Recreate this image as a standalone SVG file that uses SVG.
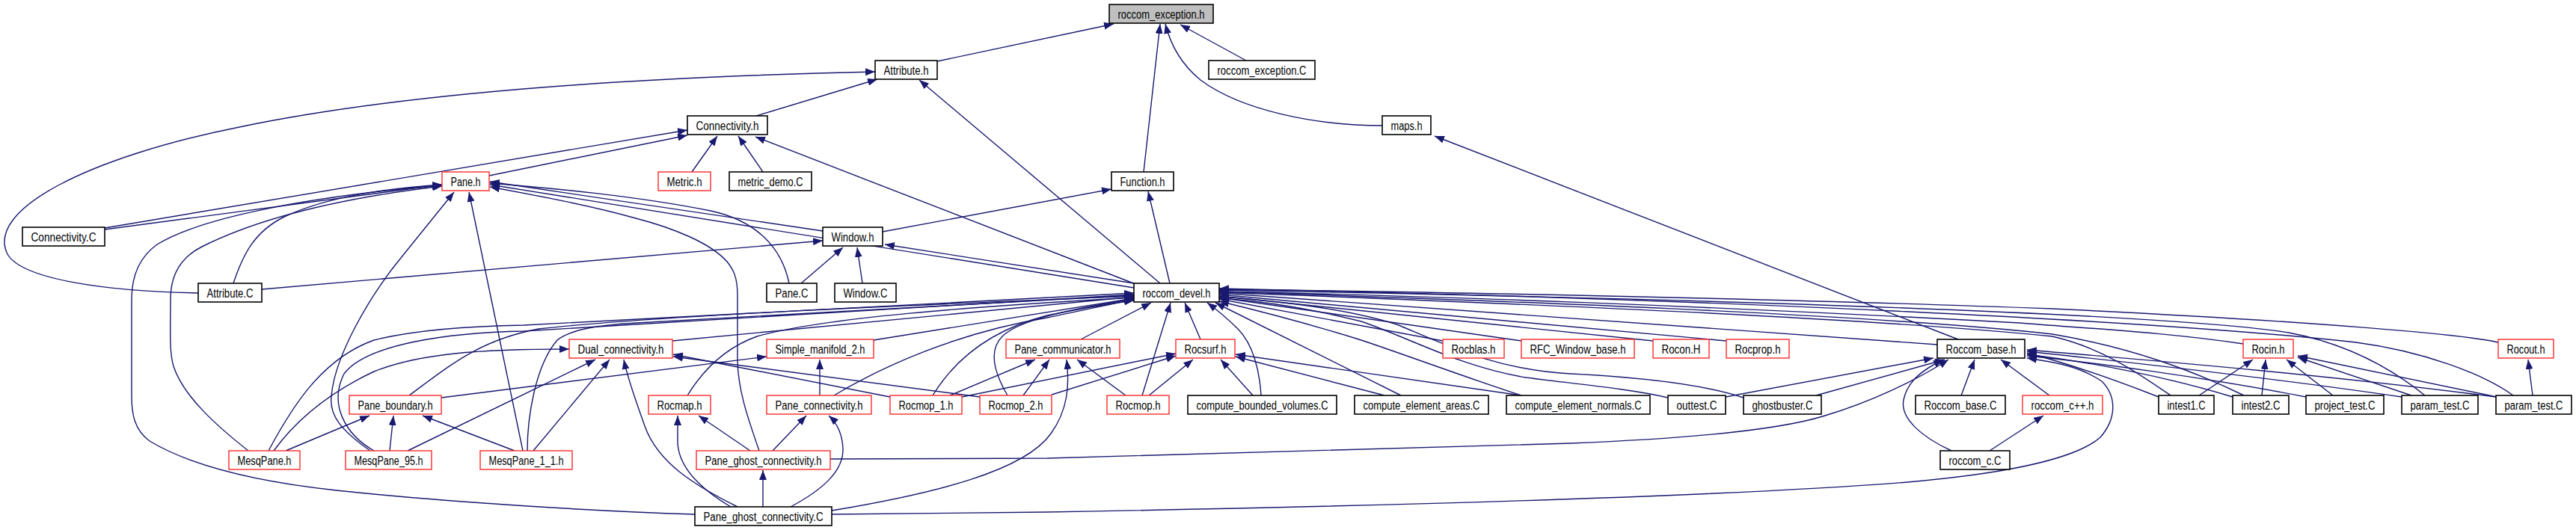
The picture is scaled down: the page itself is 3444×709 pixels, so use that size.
<svg xmlns="http://www.w3.org/2000/svg" width="3444" height="709" viewBox="0 0 3444 709">
<style>
.e path{fill:none;stroke:#191970;stroke-width:1.4;marker-end:url(#a)}
.b{fill:#fff;stroke:#000;stroke-width:1.6}
.r{fill:#fff;stroke:#ff2a2a;stroke-width:1.4}
.g{fill:#bfbfbf;stroke:#000;stroke-width:1.6}
text{font-family:"Liberation Sans",Arial,sans-serif;font-size:16px;fill:#000;text-anchor:middle}
</style>
<defs>
<marker id="a" markerWidth="13" markerHeight="10" refX="13" refY="5" orient="auto" markerUnits="userSpaceOnUse"><path d="M0,0 L13,5 L0,10 z" fill="#191970"/></marker>
</defs>
<rect width="3444" height="709" fill="#fff"/>
<g id="connectors" class="e">
<path d="M1253,82 L1489,32"/>
<path d="M1529,230 L1551,32"/>
<path d="M1848,168 C1760,168 1660,148 1605,107 C1578,85 1565,60 1558,32"/>
<path d="M1666,81 L1578,33"/>
<path d="M1011,155 L1173,106"/>
<path d="M1551,379 L1229,107"/>
<path d="M265,392 C150,390 30,375 10,340 C-20,280 120,210 320,170 C560,120 900,102 1170,96"/>
<path d="M140,305 L919,174"/>
<path d="M654,235 L919,181"/>
<path d="M925,230 L959,182"/>
<path d="M1020,230 L987,182"/>
<path d="M1518,380 L1010,183"/>
<path d="M1516,379 L1183,327"/>
<path d="M1180,310 L1486,253"/>
<path d="M1564,379 L1535,256"/>
<path d="M350,387 L1100,322"/>
<path d="M1071,379 L1127,331"/>
<path d="M1153,379 L1146,331"/>
<path d="M1100,309 L655,243"/>
<path d="M1516,385 L655,247"/>
<path d="M1055,379 C1045,330 1010,295 950,282 C850,262 740,252 655,245"/>
<path d="M1015,603 C1000,560 986,520 986,480 L986,395 C986,370 980,360 972,350 C950,325 900,305 850,292 C790,275 720,262 655,250"/>
<path d="M140,307 L591,247"/>
<path d="M312,379 C325,340 340,310 380,290 C440,262 520,252 591,247"/>
<path d="M332,603 C290,570 245,530 232,490 C226,470 228,440 228,400 C228,370 240,345 270,330 C360,285 480,262 591,249"/>
<path d="M929,688 C800,684 600,672 450,656 C330,643 250,620 200,590 C180,575 176,555 176,530 L176,400 C176,370 185,345 210,327 C270,290 420,262 591,248"/>
<path d="M495,603 C455,575 440,555 443,530 C447,480 490,400 540,340 L607,257"/>
<path d="M699,603 L627,257"/>
<path d="M366,603 C390,570 430,530 500,497 C560,473 640,467 761,467"/>
<path d="M545,603 L796,481"/>
<path d="M713,603 L815,481"/>
<path d="M986,678 C930,650 880,620 862,570 C850,535 840,510 834,481"/>
<path d="M1190,531 L900,474"/>
<path d="M1310,531 L900,477"/>
<path d="M899,456 L1516,397"/>
<path d="M547,529 C600,490 640,455 720,440 C900,420 1300,405 1516,396"/>
<path d="M359,603 C390,545 430,480 500,455 C560,440 640,436 700,435 C1000,420 1300,405 1516,392"/>
<path d="M500,603 C460,580 440,540 460,500 C490,460 600,445 700,443 C1000,425 1300,408 1516,394"/>
<path d="M705,603 C705,560 715,490 745,455 C765,440 800,435 850,432 C1100,420 1350,405 1516,395"/>
<path d="M382,603 L494,556"/>
<path d="M521,603 L526,556"/>
<path d="M688,603 L565,556"/>
<path d="M590,532 L1025,477"/>
<path d="M1096,529 L1096,481"/>
<path d="M1168,455 L1516,399"/>
<path d="M919,529 C940,495 970,465 1012,450 C1100,425 1300,410 1516,398"/>
<path d="M1115,529 C1180,490 1280,445 1400,425 C1450,415 1490,405 1516,401"/>
<path d="M1247,529 C1280,475 1330,440 1400,422 C1450,412 1490,405 1516,402"/>
<path d="M1347,529 C1330,500 1320,470 1340,450 C1360,430 1420,415 1516,400"/>
<path d="M977,678 C930,650 906,620 906,590 L906,556"/>
<path d="M1003,603 L934,556"/>
<path d="M1033,603 L1078,556"/>
<path d="M1057,678 C1100,655 1128,630 1127,600 C1126,580 1118,565 1108,556"/>
<path d="M1020,678 L1020,629"/>
<path d="M1110,614 L1400,613 C1700,606 1950,598 2100,593 C2250,587 2380,575 2440,556 C2500,538 2560,510 2605,481"/>
<path d="M1112,688 L1400,685 C1800,678 2300,665 2550,645 C2700,632 2780,610 2808,585 C2830,560 2830,530 2810,510 C2780,490 2750,485 2710,479"/>
<path d="M1270,529 L1384,481"/>
<path d="M1368,529 L1403,481"/>
<path d="M1112,683 C1250,660 1370,630 1405,580 C1428,548 1430,515 1426,481"/>
<path d="M1505,529 L1440,481"/>
<path d="M1445,454 L1539,405"/>
<path d="M1527,529 L1565,405"/>
<path d="M1536,529 L1595,481"/>
<path d="M1286,531 L1572,473"/>
<path d="M1406,528 L1572,476"/>
<path d="M1675,529 L1632,481"/>
<path d="M1851,529 L1652,477"/>
<path d="M2034,529 L1652,474"/>
<path d="M1605,454 L1584,405"/>
<path d="M1686,529 C1684,495 1675,460 1655,440 C1640,425 1625,413 1614,405"/>
<path d="M1873,529 L1625,405"/>
<path d="M2034,529 C1960,505 1880,475 1820,455 C1740,430 1680,415 1630,403"/>
<path d="M2230,532 C2180,520 2100,513 2040,505 C1950,490 1880,450 1820,430 C1740,410 1680,402 1630,399"/>
<path d="M2331,532 C2280,515 2200,505 2100,500 C2000,495 1930,460 1870,435 C1800,412 1700,402 1630,397"/>
<path d="M1929,456 L1630,400"/>
<path d="M2034,456 L1630,398"/>
<path d="M2210,456 L1630,396"/>
<path d="M2308,456 L1630,394"/>
<path d="M2590,461 L1630,392"/>
<path d="M2999,460 C2900,445 2800,440 2700,432 C2300,410 1900,395 1630,390"/>
<path d="M3340,458 C3300,448 3100,430 2744,413 C2400,400 1900,390 1630,387"/>
<path d="M2902,529 C2860,500 2810,465 2744,450 C2500,425 2000,405 1630,391"/>
<path d="M3000,529 C2930,495 2850,465 2744,447 C2500,420 2000,402 1630,390"/>
<path d="M3242,529 C3200,495 3140,460 3060,445 C2900,420 2300,400 1630,388"/>
<path d="M3360,529 C3320,500 3240,470 3150,458 C2900,430 2300,400 1630,386"/>
<path d="M2886,531 C2820,505 2760,485 2710,472"/>
<path d="M2985,531 C2900,505 2800,485 2710,474"/>
<path d="M3083,531 C2950,505 2800,485 2710,476"/>
<path d="M3211,531 C3000,500 2800,480 2710,470"/>
<path d="M3337,531 C3100,500 2850,480 2710,468"/>
<path d="M2622,529 L2640,481"/>
<path d="M2740,529 L2675,481"/>
<path d="M2609,603 C2570,585 2540,560 2545,535 C2550,510 2570,495 2598,481"/>
<path d="M2660,603 L2732,556"/>
<path d="M2307,531 L2585,479"/>
<path d="M2428,529 L2600,481"/>
<path d="M2618,454 L1918,182"/>
<path d="M2940,529 L3012,481"/>
<path d="M3024,529 L3029,481"/>
<path d="M3119,529 L3057,481"/>
<path d="M3224,529 L3072,478"/>
<path d="M3338,531 L3072,476"/>
<path d="M3386,529 L3380,481"/>
</g>
<g id="n_roccom_exception_h"><rect class="g" x="1483" y="6" width="139" height="25"/><text x="1552.5" y="24.5" textLength="116" lengthAdjust="spacingAndGlyphs">roccom_exception.h</text></g>
<g id="n_Attribute_h"><rect class="b" x="1170" y="81" width="83" height="25"/><text x="1211.5" y="99.5" textLength="60" lengthAdjust="spacingAndGlyphs">Attribute.h</text></g>
<g id="n_roccom_exception_C"><rect class="b" x="1616" y="81" width="142" height="25"/><text x="1687" y="99.5" textLength="119" lengthAdjust="spacingAndGlyphs">roccom_exception.C</text></g>
<g id="n_Connectivity_h"><rect class="b" x="919" y="155" width="107" height="25"/><text x="972.5" y="173.5" textLength="84" lengthAdjust="spacingAndGlyphs">Connectivity.h</text></g>
<g id="n_maps_h"><rect class="b" x="1848" y="155" width="65" height="25"/><text x="1880.5" y="173.5" textLength="42" lengthAdjust="spacingAndGlyphs">maps.h</text></g>
<g id="n_Pane_h"><rect class="r" x="591" y="230" width="63" height="25"/><text x="622.5" y="248.5" textLength="40" lengthAdjust="spacingAndGlyphs">Pane.h</text></g>
<g id="n_Metric_h"><rect class="r" x="880" y="230" width="70" height="25"/><text x="915" y="248.5" textLength="47" lengthAdjust="spacingAndGlyphs">Metric.h</text></g>
<g id="n_metric_demo_C"><rect class="b" x="975" y="230" width="110" height="25"/><text x="1030" y="248.5" textLength="87" lengthAdjust="spacingAndGlyphs">metric_demo.C</text></g>
<g id="n_Function_h"><rect class="b" x="1486" y="230" width="83" height="25"/><text x="1527.5" y="248.5" textLength="60" lengthAdjust="spacingAndGlyphs">Function.h</text></g>
<g id="n_Connectivity_C"><rect class="b" x="30" y="304" width="110" height="25"/><text x="85" y="322.5" textLength="87" lengthAdjust="spacingAndGlyphs">Connectivity.C</text></g>
<g id="n_Window_h"><rect class="b" x="1100" y="304" width="80" height="25"/><text x="1140" y="322.5" textLength="57" lengthAdjust="spacingAndGlyphs">Window.h</text></g>
<g id="n_Attribute_C"><rect class="b" x="265" y="379" width="85" height="25"/><text x="307.5" y="397.5" textLength="62" lengthAdjust="spacingAndGlyphs">Attribute.C</text></g>
<g id="n_Pane_C"><rect class="b" x="1025" y="379" width="67" height="25"/><text x="1058.5" y="397.5" textLength="44" lengthAdjust="spacingAndGlyphs">Pane.C</text></g>
<g id="n_Window_C"><rect class="b" x="1116" y="379" width="82" height="25"/><text x="1157" y="397.5" textLength="59" lengthAdjust="spacingAndGlyphs">Window.C</text></g>
<g id="n_roccom_devel_h"><rect class="b" x="1516" y="379" width="114" height="25"/><text x="1573" y="397.5" textLength="91" lengthAdjust="spacingAndGlyphs">roccom_devel.h</text></g>
<g id="n_Dual_connectivity_h"><rect class="r" x="761" y="454" width="138" height="25"/><text x="830" y="472.5" textLength="115" lengthAdjust="spacingAndGlyphs">Dual_connectivity.h</text></g>
<g id="n_Simple_manifold_2_h"><rect class="r" x="1025" y="454" width="143" height="25"/><text x="1096.5" y="472.5" textLength="120" lengthAdjust="spacingAndGlyphs">Simple_manifold_2.h</text></g>
<g id="n_Pane_communicator_h"><rect class="r" x="1345" y="454" width="152" height="25"/><text x="1421" y="472.5" textLength="129" lengthAdjust="spacingAndGlyphs">Pane_communicator.h</text></g>
<g id="n_Rocsurf_h"><rect class="r" x="1572" y="454" width="79" height="25"/><text x="1611.5" y="472.5" textLength="56" lengthAdjust="spacingAndGlyphs">Rocsurf.h</text></g>
<g id="n_Rocblas_h"><rect class="r" x="1929" y="454" width="82" height="25"/><text x="1970" y="472.5" textLength="59" lengthAdjust="spacingAndGlyphs">Rocblas.h</text></g>
<g id="n_RFC_Window_base_h"><rect class="r" x="2034" y="454" width="151" height="25"/><text x="2109.5" y="472.5" textLength="128" lengthAdjust="spacingAndGlyphs">RFC_Window_base.h</text></g>
<g id="n_Rocon_H"><rect class="r" x="2210" y="454" width="75" height="25"/><text x="2247.5" y="472.5" textLength="52" lengthAdjust="spacingAndGlyphs">Rocon.H</text></g>
<g id="n_Rocprop_h"><rect class="r" x="2308" y="454" width="84" height="25"/><text x="2350" y="472.5" textLength="61" lengthAdjust="spacingAndGlyphs">Rocprop.h</text></g>
<g id="n_Roccom_base_h"><rect class="b" x="2590" y="454" width="117" height="25"/><text x="2648.5" y="472.5" textLength="94" lengthAdjust="spacingAndGlyphs">Roccom_base.h</text></g>
<g id="n_Rocin_h"><rect class="r" x="2999" y="454" width="67" height="25"/><text x="3032.5" y="472.5" textLength="44" lengthAdjust="spacingAndGlyphs">Rocin.h</text></g>
<g id="n_Rocout_h"><rect class="r" x="3340" y="454" width="74" height="25"/><text x="3377" y="472.5" textLength="51" lengthAdjust="spacingAndGlyphs">Rocout.h</text></g>
<g id="n_Pane_boundary_h"><rect class="r" x="467" y="529" width="123" height="25"/><text x="528.5" y="547.5" textLength="100" lengthAdjust="spacingAndGlyphs">Pane_boundary.h</text></g>
<g id="n_Rocmap_h"><rect class="r" x="867" y="529" width="83" height="25"/><text x="908.5" y="547.5" textLength="60" lengthAdjust="spacingAndGlyphs">Rocmap.h</text></g>
<g id="n_Pane_connectivity_h"><rect class="r" x="1025" y="529" width="140" height="25"/><text x="1095" y="547.5" textLength="117" lengthAdjust="spacingAndGlyphs">Pane_connectivity.h</text></g>
<g id="n_Rocmop_1_h"><rect class="r" x="1190" y="529" width="96" height="25"/><text x="1238" y="547.5" textLength="73" lengthAdjust="spacingAndGlyphs">Rocmop_1.h</text></g>
<g id="n_Rocmop_2_h"><rect class="r" x="1310" y="529" width="96" height="25"/><text x="1358" y="547.5" textLength="73" lengthAdjust="spacingAndGlyphs">Rocmop_2.h</text></g>
<g id="n_Rocmop_h"><rect class="r" x="1480" y="529" width="83" height="25"/><text x="1521.5" y="547.5" textLength="60" lengthAdjust="spacingAndGlyphs">Rocmop.h</text></g>
<g id="n_compute_bounded_volumes_C"><rect class="b" x="1588" y="529" width="199" height="25"/><text x="1687.5" y="547.5" textLength="176" lengthAdjust="spacingAndGlyphs">compute_bounded_volumes.C</text></g>
<g id="n_compute_element_areas_C"><rect class="b" x="1811" y="529" width="179" height="25"/><text x="1900.5" y="547.5" textLength="156" lengthAdjust="spacingAndGlyphs">compute_element_areas.C</text></g>
<g id="n_compute_element_normals_C"><rect class="b" x="2014" y="529" width="192" height="25"/><text x="2110" y="547.5" textLength="169" lengthAdjust="spacingAndGlyphs">compute_element_normals.C</text></g>
<g id="n_outtest_C"><rect class="b" x="2230" y="529" width="77" height="25"/><text x="2268.5" y="547.5" textLength="54" lengthAdjust="spacingAndGlyphs">outtest.C</text></g>
<g id="n_ghostbuster_C"><rect class="b" x="2331" y="529" width="104" height="25"/><text x="2383" y="547.5" textLength="81" lengthAdjust="spacingAndGlyphs">ghostbuster.C</text></g>
<g id="n_Roccom_base_C"><rect class="b" x="2561" y="529" width="120" height="25"/><text x="2621" y="547.5" textLength="97" lengthAdjust="spacingAndGlyphs">Roccom_base.C</text></g>
<g id="n_roccom_cpp_h"><rect class="r" x="2704" y="529" width="107" height="25"/><text x="2757.5" y="547.5" textLength="84" lengthAdjust="spacingAndGlyphs">roccom_c++.h</text></g>
<g id="n_intest1_C"><rect class="b" x="2886" y="529" width="74" height="25"/><text x="2923" y="547.5" textLength="51" lengthAdjust="spacingAndGlyphs">intest1.C</text></g>
<g id="n_intest2_C"><rect class="b" x="2985" y="529" width="75" height="25"/><text x="3022.5" y="547.5" textLength="52" lengthAdjust="spacingAndGlyphs">intest2.C</text></g>
<g id="n_project_test_C"><rect class="b" x="3083" y="529" width="104" height="25"/><text x="3135" y="547.5" textLength="81" lengthAdjust="spacingAndGlyphs">project_test.C</text></g>
<g id="n_param_test_C_1"><rect class="b" x="3211" y="529" width="102" height="25"/><text x="3262" y="547.5" textLength="79" lengthAdjust="spacingAndGlyphs">param_test.C</text></g>
<g id="n_param_test_C_2"><rect class="b" x="3337" y="529" width="101" height="25"/><text x="3387.5" y="547.5" textLength="78" lengthAdjust="spacingAndGlyphs">param_test.C</text></g>
<g id="n_MesqPane_h"><rect class="r" x="306" y="603" width="95" height="25"/><text x="353.5" y="621.5" textLength="72" lengthAdjust="spacingAndGlyphs">MesqPane.h</text></g>
<g id="n_MesqPane_95_h"><rect class="r" x="462" y="603" width="115" height="25"/><text x="519.5" y="621.5" textLength="92" lengthAdjust="spacingAndGlyphs">MesqPane_95.h</text></g>
<g id="n_MesqPane_1_1_h"><rect class="r" x="642" y="603" width="123" height="25"/><text x="703.5" y="621.5" textLength="100" lengthAdjust="spacingAndGlyphs">MesqPane_1_1.h</text></g>
<g id="n_Pane_ghost_connectivity_h"><rect class="r" x="931" y="603" width="179" height="25"/><text x="1020.5" y="621.5" textLength="156" lengthAdjust="spacingAndGlyphs">Pane_ghost_connectivity.h</text></g>
<g id="n_roccom_c_C"><rect class="b" x="2594" y="603" width="93" height="25"/><text x="2640.5" y="621.5" textLength="70" lengthAdjust="spacingAndGlyphs">roccom_c.C</text></g>
<g id="n_Pane_ghost_connectivity_C"><rect class="b" x="929" y="678" width="183" height="25"/><text x="1020.5" y="696.5" textLength="160" lengthAdjust="spacingAndGlyphs">Pane_ghost_connectivity.C</text></g>
</svg>
